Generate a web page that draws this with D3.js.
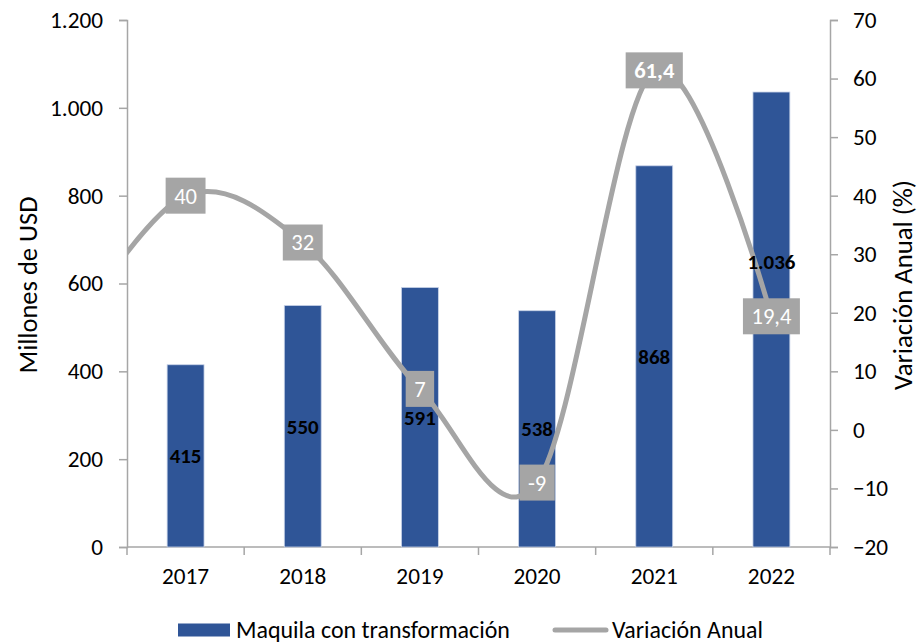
<!DOCTYPE html>
<html>
<head>
    <meta charset="utf-8">
    <title>Maquila con transformación</title>
    <style>
        body { margin: 0; background: #fff; }
        text { font-family: Carlito, Calibri, Lato, sans-serif; }
    </style>
</head>
<body>
    <div id="chart"></div>

    <script src="https://cdn.jsdelivr.net/npm/d3@7"></script>
    <script>
        // Data
        const years = ["2017", "2018", "2019", "2020", "2021", "2022"];
        const maquila = [415, 550, 591, 538, 868, 1036];          // Millones de USD
        const variacion = [40, 32, 7, -9, 61.4, 19.4];             // %
        const variacionPrev = { year: "2016", value: 16 };         // lead-in point, clipped off the plot
        const leftTicks = [0, 200, 400, 600, 800, 1000, 1200];
        const rightTicks = [-20, -10, 0, 10, 20, 30, 40, 50, 60, 70];

        const width = 922, height = 644;
        const plot = { left: 127, right: 830, top: 20, bottom: 547 };
        const barColor = "#2F5597", lineColor = "#A5A5A5", axisColor = "#A6A6A6";

        const fmtNum = d3.formatLocale({ decimal: ",", thousands: ".", grouping: [3], currency: ["", ""] });
        const fmtInt = fmtNum.format(",d");
        const fmtPct = v => Number.isInteger(v) ? String(v) : fmtNum.format(".1f")(v);

        const svg = d3.select("#chart").append("svg")
            .attr("width", width)
            .attr("height", height);

        // font size that makes `str` as wide as `len` px (fonts differ from the original)
        function sizeFor(str, len, weight) {
            const t = svg.append("text").style("font-size", "20px")
                .attr("font-weight", weight || "normal").text(str);
            const w = t.node().getComputedTextLength();
            t.remove();
            return 20 * len / w;
        }
        function fitText(sel, len) {
            const w = sel.node().getComputedTextLength();
            const fs = parseFloat(sel.style("font-size"));
            sel.style("font-size", (fs * len / w) + "px");
        }
        const tickSize = sizeFor("1.200", 53);
        const barLabelSize = sizeFor("1.036", 48, "bold");
        const lineLabelSize = sizeFor("19,4", 40);

        const x = d3.scaleBand()
            .domain(years)
            .range([plot.left, plot.right])
            .padding(0);
        const step = x.step();
        const cx = yr => yr === variacionPrev.year ? x(years[0]) - step / 2 : x(yr) + step / 2;

        const y = d3.scaleLinear().domain([0, 1200]).range([plot.bottom, plot.top]);
        const y2 = d3.scaleLinear().domain([-20, 70]).range([plot.bottom, plot.top]);

        // Axes
        const leftAxis = svg.append("g")
            .attr("transform", `translate(${plot.left},0)`)
            .call(d3.axisLeft(y).tickValues(leftTicks).tickSize(8).tickPadding(16).tickFormat(fmtInt));
        const rightAxis = svg.append("g")
            .attr("transform", `translate(${plot.right},0)`)
            .call(d3.axisRight(y2).tickValues(rightTicks).tickSize(8).tickPadding(15));
        const bottomAxis = svg.append("g")
            .attr("transform", `translate(0,${plot.bottom})`)
            .call(d3.axisBottom(x).tickSize(0).tickPadding(20));

        [leftAxis, rightAxis, bottomAxis].forEach(g => {
            g.select(".domain").attr("stroke", axisColor).attr("stroke-width", 1.5);
            g.selectAll(".tick line").attr("stroke", axisColor).attr("stroke-width", 1.5);
            g.selectAll("text").attr("fill", "#000").style("font-size", tickSize + "px")
                .style("font-family", "Carlito, Calibri, Lato, sans-serif");
        });
        bottomAxis.select(".domain").attr("d", `M${plot.left},0H${plot.right}`);

        // category separator ticks on the bottom axis
        bottomAxis.selectAll(".sep")
            .data(d3.range(years.length + 1))
            .join("line")
            .attr("x1", i => plot.left + i * step)
            .attr("x2", i => plot.left + i * step)
            .attr("y1", 0).attr("y2", 8)
            .attr("stroke", axisColor).attr("stroke-width", 1.5);

        // Bars
        const barW = step * 0.315;
        svg.append("g").selectAll("rect")
            .data(years)
            .join("rect")
            .attr("x", (d) => cx(d) - barW / 2)
            .attr("y", (d, i) => y(maquila[i]))
            .attr("width", barW)
            .attr("height", (d, i) => y(0) - y(maquila[i]))
            .attr("fill", barColor)
            .attr("stroke", "#C9D3E8")
            .attr("stroke-width", 0.8);

        // Line (smoothed, clipped to the plot)
        svg.append("clipPath").attr("id", "plotClip")
            .append("rect")
            .attr("x", plot.left).attr("y", 0)
            .attr("width", plot.right - plot.left).attr("height", height);

        const linePts = [[cx(variacionPrev.year), y2(variacionPrev.value)]]
            .concat(years.map((d, i) => [cx(d), y2(variacion[i])]));

        svg.append("path")
            .attr("clip-path", "url(#plotClip)")
            .attr("d", d3.line().curve(d3.curveCardinal.tension(0))(linePts))
            .attr("fill", "none")
            .attr("stroke", lineColor)
            .attr("stroke-width", 5)
            .attr("stroke-linecap", "round");

        // Line labels: grey boxes with white text
        const lab = svg.append("g").selectAll("g")
            .data(years)
            .join("g")
            .attr("transform", (d, i) => `translate(${cx(d)},${y2(variacion[i])})`);
        lab.append("text")
            .attr("text-anchor", "middle")
            .attr("dy", "0.35em")
            .style("font-size", lineLabelSize + "px")
            .attr("font-weight", (d, i) => variacion[i] === d3.max(variacion) ? "bold" : "normal")
            .attr("fill", "#fff")
            .text((d, i) => fmtPct(variacion[i]));
        lab.each(function () {
            const g = d3.select(this);
            const w = g.select("text").node().getComputedTextLength();
            g.insert("rect", "text")
                .attr("x", -w / 2 - 8.5)
                .attr("y", -18)
                .attr("width", w + 17)
                .attr("height", 36)
                .attr("fill", lineColor);
        });

        // Bar labels, centred; nudged above the line label when they would sit on it
        svg.append("g").selectAll("text")
            .data(years)
            .join("text")
            .attr("x", d => cx(d))
            .attr("y", (d, i) => {
                const mid = (y(maquila[i]) + y(0)) / 2;
                const ly = y2(variacion[i]);
                return Math.abs(mid - ly) < 15 ? ly - 55 : mid;
            })
            .attr("dy", "0.35em")
            .attr("text-anchor", "middle")
            .attr("font-weight", "bold")
            .style("font-size", barLabelSize + "px")
            .attr("fill", "#000")
            .text((d, i) => fmtInt(maquila[i]));

        // Axis titles
        svg.append("text")
            .attr("transform", `translate(37,285) rotate(-90)`)
            .attr("text-anchor", "middle")
            .style("font-size", "26px")
            .text("Millones de USD")
            .call(fitText, 177);
        svg.append("text")
            .attr("transform", `translate(912,285) rotate(-90)`)
            .attr("text-anchor", "middle")
            .style("font-size", "26px")
            .text("Variación Anual (%)")
            .call(fitText, 210);

        // Legend
        const legend = svg.append("g").attr("transform", "translate(0,630)");
        legend.append("rect")
            .attr("x", 178).attr("y", -6.5)
            .attr("width", 52).attr("height", 13)
            .attr("fill", barColor);
        legend.append("text")
            .attr("x", 236).attr("dy", "0.32em")
            .style("font-size", "22px")
            .text("Maquila con transformación")
            .call(fitText, 274);
        legend.append("line")
            .attr("x1", 555).attr("x2", 606)
            .attr("stroke", lineColor).attr("stroke-width", 5)
            .attr("stroke-linecap", "round");
        legend.append("text")
            .attr("x", 612).attr("dy", "0.32em")
            .style("font-size", "22px")
            .text("Variación Anual")
            .call(fitText, 151);
    </script>
</body>
</html>
